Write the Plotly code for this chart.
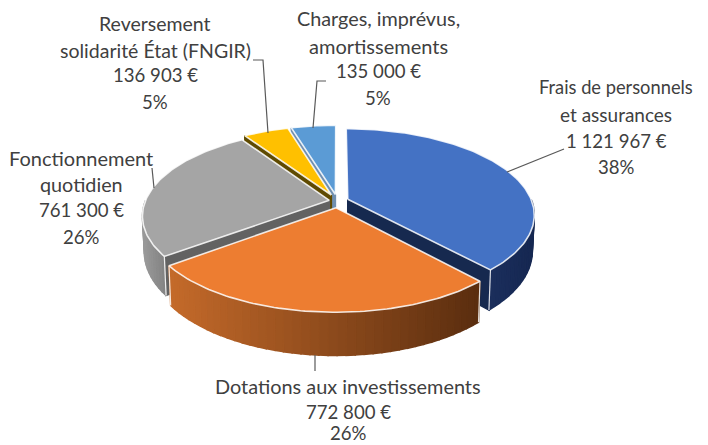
import math
import plotly.graph_objects as go

# Data
categories = ["Frais de personnels et assurances", "Dotations aux investissements",
              "Fonctionnement quotidien", "Reversement solidarité État (FNGIR)",
              "Charges, imprévus, amortissements"]
values = [1121967, 772800, 761300, 136903, 135000]
value_labels = ["1 121 967 €", "772 800 €", "761 300 €", "136 903 €", "135 000 €"]
percent_labels = ["38%", "26%", "26%", "5%", "5%"]
name_lines = [["Frais de personnels", "et assurances"], ["Dotations aux investissements"],
              ["Fonctionnement", "quotidien"], ["Reversement", "solidarité État (FNGIR)"],
              ["Charges, imprévus,", "amortissements"]]

# Style
top_colors = ["#4472C4", "#ED7D31", "#A5A5A5", "#FFC000", "#5B9BD5"]
wall_left = [(27, 46, 92), (196, 106, 42), (150, 150, 150), (120, 90, 0), (70, 110, 150)]
wall_right = [(22, 40, 82), (90, 45, 15), (130, 130, 130), (120, 90, 0), (70, 110, 150)]
radial_colors = ["#16294F", "#5E2F10", "#626262", "#5F4A00", "#6F8FB0"]
explode = [0.06, 0.08, 0.045, 0.08, 0.08]
CX, CY, RX, RY, K, DEPTH = 337.5, 201, 184, 83.5, 0.176, 35
TEXT = "#404040"
EDGE = "rgba(255,255,255,0.85)"
FONT = "Lato"
name_sizes = [[18.3, 19], [19.9], [20, 19.8], [19.5, 19.5], [19.8, 20]]
NUM_SIZE = 18.6

def proj(x, y, low=False):
    s = 1 / (1 - K * y)
    px = CX + x * RX * s * (0.99 if low else 1)
    py = CY + y * RY * s + (DEPTH * s if low else 0)
    return px, py

def rgb(c):
    return "rgb(%d,%d,%d)" % tuple(round(v) for v in c)

fig = go.Figure()

def poly(pts, fill, line=None, width=0.0):
    fig.add_trace(go.Scatter(
        x=[p[0] for p in pts] + [pts[0][0]], y=[p[1] for p in pts] + [pts[0][1]],
        mode="lines", fill="toself", fillcolor=fill,
        line=dict(color=line or fill, width=width if line else 1.5),
        hoverinfo="skip", showlegend=False))

total = sum(values)
angles = [0.0]
for v in values:
    angles.append(angles[-1] + 2 * math.pi * v / total)

def pt(a, r=1.0):
    return math.sin(a) * r, -math.cos(a) * r

# back slices first, nearest slice last
for i in [4, 3, 2, 0, 1]:
    a0, a1 = angles[i], angles[i + 1]
    mid = (a0 + a1) / 2
    ox, oy = pt(mid, explode[i])
    apex = (ox, oy)
    def w(a):
        x, y = pt(a)
        return x + ox, y + oy
    # radial walls facing the viewer
    if math.sin(a0) < 0:
        e = w(a0)
        poly([proj(*apex), proj(*e), proj(*e, True), proj(*apex, True)], radial_colors[i])
    if math.sin(a1) > 0:
        e = w(a1)
        poly([proj(*apex), proj(*e), proj(*e, True), proj(*apex, True)], radial_colors[i])
    # outer wall, shaded across its width
    lo, hi = max(a0, math.pi / 2), min(a1, 3 * math.pi / 2)
    if hi > lo:
        n = max(3, int((hi - lo) / 0.04))
        x_min, x_max = proj(*w(hi))[0], proj(*w(lo))[0]
        for j in range(n):
            b0 = lo + (hi - lo) * j / n
            b1 = lo + (hi - lo) * (j + 1) / n
            p0, p1 = w(b0), w(b1)
            quad = [proj(*p0), proj(*p1), proj(*p1, True), proj(*p0, True)]
            t = ((quad[0][0] + quad[1][0]) / 2 - x_min) / max(x_max - x_min, 1)
            c = [wall_left[i][k] + (wall_right[i][k] - wall_left[i][k]) * t for k in range(3)]
            poly(quad, rgb(c))
        # pale corners of the outer wall
        for a in (lo, hi):
            if a in (a0, a1):
                p = w(a)
                q0, q1 = proj(*p), proj(*p, True)
                fig.add_trace(go.Scatter(x=[q0[0], q1[0]], y=[q0[1], q1[1]], mode="lines",
                                         line=dict(color=EDGE, width=1.2),
                                         hoverinfo="skip", showlegend=False))
    # top face
    m = max(6, int((a1 - a0) / 0.02))
    top = [proj(*apex)] + [proj(*w(a0 + (a1 - a0) * j / m)) for j in range(m + 1)]
    poly(top, top_colors[i], EDGE, 1.6)

# leader lines
leaders = [
    [(507, 172), (564, 149)],
    [(315, 355), (315, 371)],
    [(152, 168), (154, 188)],
    [(253, 60), (263, 60), (268, 133)],
    [(326, 81), (317, 81), (313, 128)],
]
for seg in leaders:
    fig.add_trace(go.Scatter(x=[p[0] for p in seg], y=[p[1] for p in seg], mode="lines",
                             line=dict(color="#595959", width=1.2),
                             hoverinfo="skip", showlegend=False))

# labels, one annotation per line
label_x = [616, 348, 81, 155, 378]
label_y = [[87, 114, 141, 167], [386, 412, 433], [158, 184, 210, 237],
           [23, 50, 75, 102], [18, 46, 71, 98]]
annotations = []
for i in range(5):
    lines = name_lines[i] + [value_labels[i], percent_labels[i]]
    sizes = name_sizes[i] + [NUM_SIZE, NUM_SIZE]
    for text, y, size in zip(lines, label_y[i], sizes):
        annotations.append(dict(x=label_x[i], y=y, text=text, showarrow=False,
                                xanchor="center", yanchor="middle",
                                font=dict(family=FONT, size=size, color=TEXT)))

fig.update_layout(
    width=708, height=445, margin=dict(l=0, r=0, t=0, b=0),
    paper_bgcolor="white", plot_bgcolor="white", showlegend=False,
    xaxis=dict(range=[0, 708], visible=False, fixedrange=True),
    yaxis=dict(range=[445, 0], visible=False, fixedrange=True),
    annotations=annotations,
)
fig.write_html("out.html", config=dict(displayModeBar=False),
               post_script="document.body.style.margin='0';document.body.style.overflow='hidden';")
